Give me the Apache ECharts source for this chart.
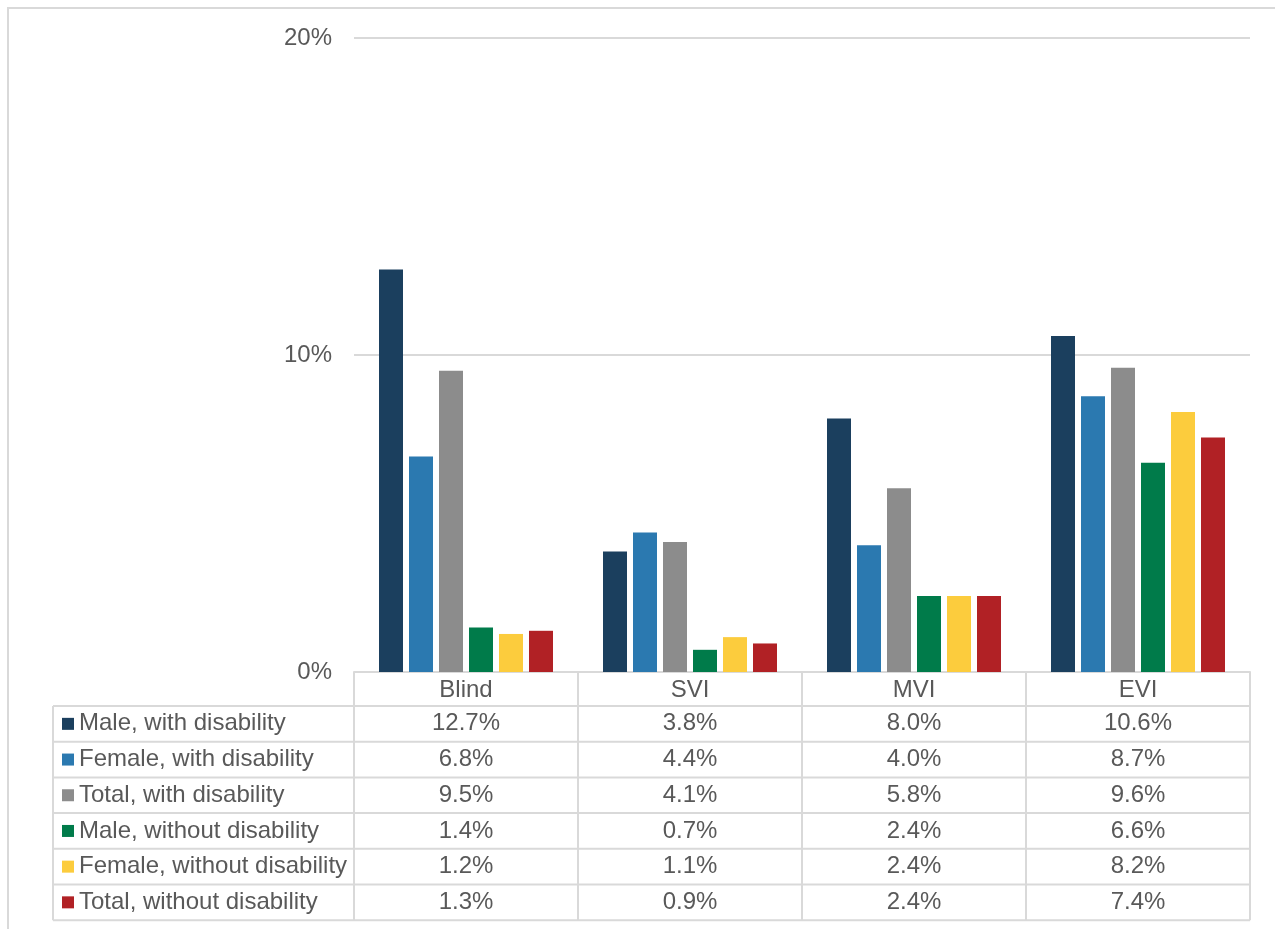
<!DOCTYPE html>
<html>
<head>
<meta charset="utf-8">
<script src="https://cdn.jsdelivr.net/npm/echarts@6/dist/echarts.min.js"></script>
<style>
  html, body { margin: 0; padding: 0; background: #fff; }
  #chart-container { width: 1275px; height: 929px; }
</style>
</head>
<body>
<div id="chart-container"></div>
<script>
var categories = ['Blind', 'SVI', 'MVI', 'EVI'];
var seriesNames = [
    'Male, with disability',
    'Female, with disability',
    'Total, with disability',
    'Male, without disability',
    'Female, without disability',
    'Total, without disability'
];
var maleWith = [12.7, 3.8, 8.0, 10.6];
var femaleWith = [6.8, 4.4, 4.0, 8.7];
var totalWith = [9.5, 4.1, 5.8, 9.6];
var maleWithout = [1.4, 0.7, 2.4, 6.6];
var femaleWithout = [1.2, 1.1, 2.4, 8.2];
var totalWithout = [1.3, 0.9, 2.4, 7.4];
var yTicks = [0, 10, 20];

var seriesData = [maleWith, femaleWith, totalWith, maleWithout, femaleWithout, totalWithout];
var colors = ['#1B3F5E', '#2B79B0', '#8C8C8C', '#007B4A', '#FCCC3D', '#B12125'];

var dom = document.getElementById('chart-container');
var myChart = echarts.init(dom, null, { renderer: 'canvas' });

var font = 'Liberation Sans, Arial, sans-serif';
var textColor = '#595959';
var lineColor = '#D9D9D9';
var fontSize = 24;

// plot box
var plotLeft = 354, plotRight = 1250, plotTop = 38, plotBottom = 672;
var catW = (plotRight - plotLeft) / categories.length;
var tableLeft = 53;
var headerBottom = 706;
var rowH = 35.7;

// data table under the axis
var graphics = [];
graphics.push({
    type: 'rect',
    shape: { x: 8, y: 8, width: 1400, height: 1100 },
    style: { fill: null, stroke: lineColor, lineWidth: 2 },
    silent: true
});
var tableBottom = headerBottom + rowH * seriesNames.length;
for (var r = 0; r <= seriesNames.length; r++) {
    var y = headerBottom + r * rowH;
    graphics.push({
        type: 'line',
        shape: { x1: tableLeft, y1: y, x2: plotRight, y2: y },
        style: { stroke: lineColor, lineWidth: 2 }
    });
}
var colX = [tableLeft];
for (var c = 0; c <= categories.length; c++) colX.push(plotLeft + c * catW);
colX.forEach(function (x) {
    graphics.push({
        type: 'line',
        shape: { x1: x, y1: headerBottom, x2: x, y2: tableBottom },
        style: { stroke: lineColor, lineWidth: 2 }
    });
});
seriesNames.forEach(function (name, i) {
    var cy = headerBottom + i * rowH + rowH / 2;
    graphics.push({
        type: 'rect',
        shape: { x: 62, y: cy - 6, width: 12, height: 12 },
        style: { fill: colors[i] }
    });
    graphics.push({
        type: 'text',
        x: 79, y: cy,
        style: { text: name, font: fontSize + 'px ' + font, fill: textColor, verticalAlign: 'middle', align: 'left' }
    });
    seriesData[i].forEach(function (v, j) {
        graphics.push({
            type: 'text',
            x: plotLeft + j * catW + catW / 2, y: cy,
            style: { text: v.toFixed(1) + '%', font: fontSize + 'px ' + font, fill: textColor, verticalAlign: 'middle', align: 'center' }
        });
    });
});

var option = {
    animation: false,
    color: colors,
    grid: {
        left: plotLeft,
        right: 1275 - plotRight,
        top: plotTop,
        bottom: 929 - plotBottom,
        containLabel: false
    },
    xAxis: {
        type: 'category',
        data: categories,
        axisLine: { show: true, lineStyle: { color: lineColor, width: 2 } },
        axisTick: { show: true, length: 34, interval: 0, lineStyle: { color: lineColor, width: 2 } },
        axisLabel: { color: textColor, fontSize: fontSize, fontFamily: font, margin: 6, interval: 0 }
    },
    yAxis: {
        type: 'value',
        min: yTicks[0],
        max: yTicks[yTicks.length - 1],
        interval: yTicks[1] - yTicks[0],
        axisLine: { show: false },
        axisTick: { show: false },
        axisLabel: { color: textColor, fontSize: fontSize, fontFamily: font, margin: 22, formatter: '{value}%' },
        splitLine: { lineStyle: { color: lineColor, width: 2 } }
    },
    series: seriesNames.map(function (name, i) {
        return {
            name: name,
            type: 'bar',
            data: seriesData[i],
            barWidth: 24,
            barGap: '25%',
            itemStyle: { color: colors[i] }
        };
    }),
    graphic: graphics
};

myChart.setOption(option);
window.addEventListener('resize', myChart.resize);
</script>
</body>
</html>
